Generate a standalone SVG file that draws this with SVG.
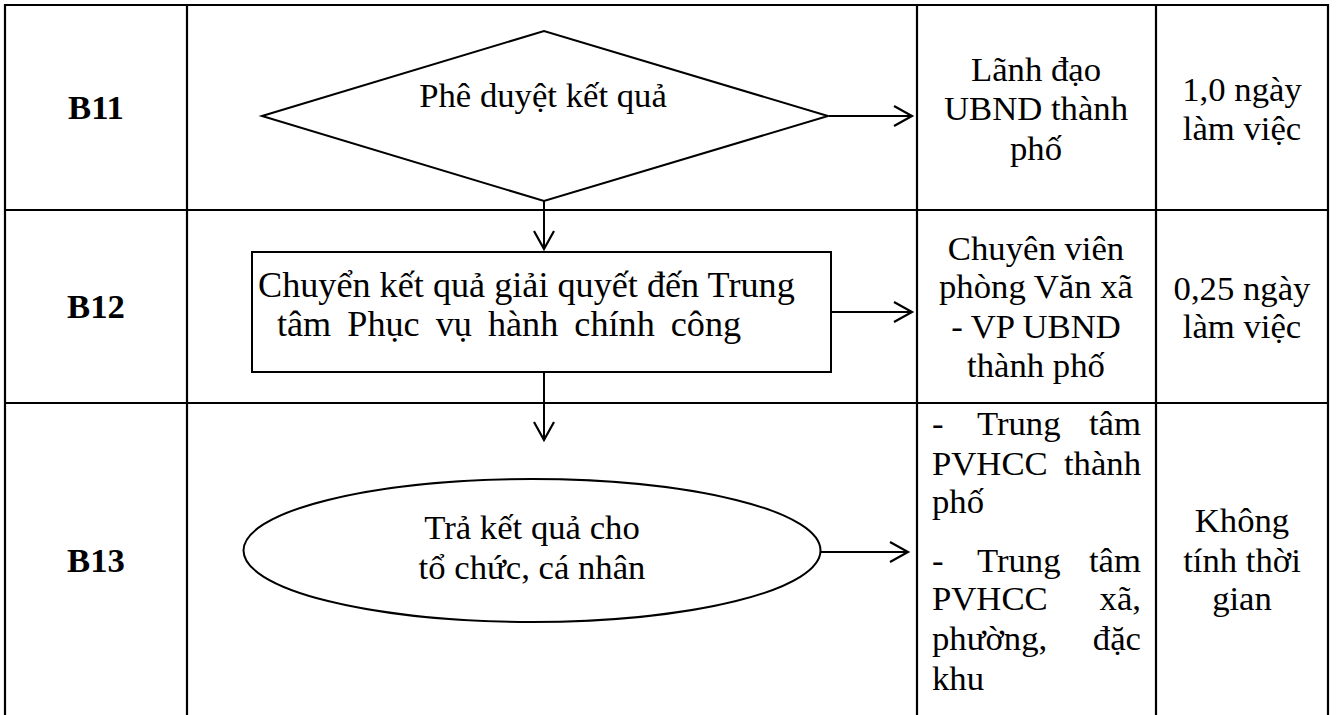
<svg xmlns="http://www.w3.org/2000/svg" width="1337" height="715" viewBox="0 0 1337 715">
<style>
text{font-family:"Liberation Serif","Times New Roman",serif;font-size:34.7px;fill:#000}
.b{font-weight:bold}
.c{text-anchor:middle}
.e{text-anchor:end}
.r{font-size:36.2px}
.grid{stroke:#000;stroke-width:2.2;fill:none}
.shape{stroke:#000;stroke-width:2;fill:#fff}
.conn{stroke:#000;stroke-width:2;fill:none}
</style>
<defs>
<marker id="arr" markerUnits="userSpaceOnUse" markerWidth="22" markerHeight="24" refX="19" refY="11" orient="auto">
<path d="M1,1 L19,11 L1,21" fill="none" stroke="#000" stroke-width="2.2"/>
</marker>
</defs>
<rect width="1337" height="715" fill="#fff"/>
<g id="table" class="grid">
<path d="M5,716 V5 H1328 V716"/>
<path d="M5,210 H1328 M5,403 H1328"/>
<path d="M187,5 V716 M917,5 V716 M1156,5 V716"/>
</g>
<g id="steps">
<text class="b c" x="96" y="119">B11</text>
<text class="b c" x="96" y="318">B12</text>
<text class="b c" x="96" y="572">B13</text>
</g>
<g id="connectors" class="conn">
<line x1="829" y1="116" x2="912" y2="116" marker-end="url(#arr)"/>
<line x1="544" y1="201" x2="544" y2="249" marker-end="url(#arr)"/>
<line x1="831" y1="312" x2="912" y2="312" marker-end="url(#arr)"/>
<line x1="544" y1="372" x2="544" y2="440" marker-end="url(#arr)"/>
<line x1="821" y1="552" x2="908" y2="552" marker-end="url(#arr)"/>
</g>
<g id="node-b11">
<polygon class="shape" points="262,116 544,31 828,116 544,201" stroke-width="1.8"/>
<text class="c" x="543" y="107">Phê duyệt kết quả</text>
</g>
<g id="node-b12">
<rect class="shape" x="252" y="252" width="579" height="120"/>
<text class="r" x="258" y="297">Chuyển kết quả giải quyết đến Trung</text>
<text class="r" x="277" y="336" word-spacing="7">tâm Phục vụ hành chính công</text>
</g>
<g id="node-b13">
<ellipse class="shape" cx="532" cy="550.5" rx="288.5" ry="71.5"/>
<text class="c" x="532" y="539">Trả kết quả cho</text>
<text class="c" x="532" y="579">tổ chức, cá nhân</text>
</g>
<g id="resp-b11">
<text class="c" x="1036" y="80.5">Lãnh đạo</text>
<text class="c" x="1036" y="120">UBND thành</text>
<text class="c" x="1036" y="159.5">phố</text>
</g>
<g id="time-b11">
<text class="c" x="1242" y="101">1,0 ngày</text>
<text class="c" x="1242" y="140">làm việc</text>
</g>
<g id="resp-b12">
<text class="c" x="1036" y="260">Chuyên viên</text>
<text class="c" x="1036" y="298">phòng Văn xã</text>
<text class="c" x="1036" y="338">- VP UBND</text>
<text class="c" x="1036" y="377">thành phố</text>
</g>
<g id="time-b12">
<text class="c" x="1242" y="300">0,25 ngày</text>
<text class="c" x="1242" y="338">làm việc</text>
</g>
<g id="resp-b13">
<text x="932" y="435">-</text><text x="977" y="435">Trung</text><text class="e" x="1141" y="435">tâm</text>
<text x="932" y="475">PVHCC</text><text class="e" x="1141" y="475">thành</text>
<text x="932" y="513">phố</text>
<text x="932" y="572">-</text><text x="977" y="572">Trung</text><text class="e" x="1141" y="572">tâm</text>
<text x="932" y="610">PVHCC</text><text class="e" x="1141" y="610">xã,</text>
<text x="932" y="650">phường,</text><text class="e" x="1141" y="650">đặc</text>
<text x="932" y="690">khu</text>
</g>
<g id="time-b13">
<text class="c" x="1242" y="532">Không</text>
<text class="c" x="1242" y="572">tính thời</text>
<text class="c" x="1242" y="610">gian</text>
</g>
</svg>
